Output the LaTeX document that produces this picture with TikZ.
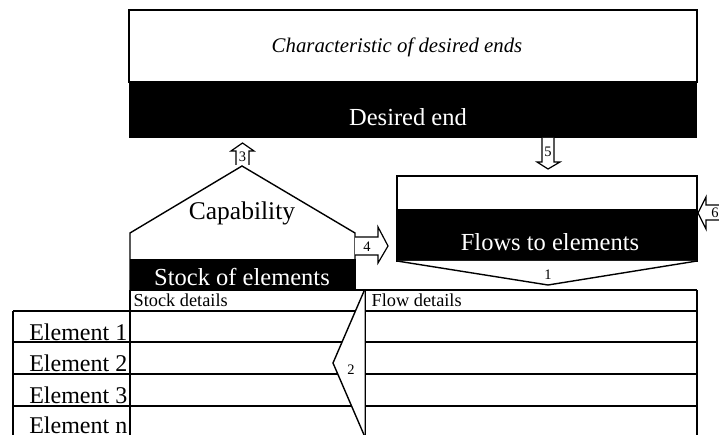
\documentclass[tikz,border=0pt]{standalone}
\usepackage{fontspec}
\setmainfont{Liberation Serif}
\begin{document}
\begin{tikzpicture}[x=1pt,y=-1pt,line width=1.4pt,line join=miter,
  panel/.style={draw=black,fill=white},
  band/.style={fill=black},
  bigw/.style={text=white,inner sep=0pt,font=\fontsize{24.5}{24.5}\selectfont},
  num/.style={inner sep=0pt,font=\fontsize{14.5}{14.5}\selectfont},
  elem/.style={inner sep=0pt,anchor=base east,font=\fontsize{24}{24}\selectfont},
  head/.style={inner sep=0pt,anchor=base west,font=\fontsize{18.3}{18.3}\selectfont},
  blockarrow/.style={draw=black,fill=white,line width=1.2pt}]
\useasboundingbox (0,0) rectangle (719,435);
\clip (0,0) rectangle (719,435);

% desired end panel
\draw[panel] (129,10) rectangle (697,82);
\fill[band] (129,82) rectangle (697,138);
\node[inner sep=0pt,font=\fontsize{20.8}{20.8}\itshape] (charact) at (397,47) {Characteristic of desired ends};
\node[bigw] (desired) at (408,117) {Desired end};

% capability pentagon with stock band
\draw[panel] (130,290) -- (130,233) -- (242,166) -- (355,233) -- (355,290);
\fill[band] (130,259) rectangle (356,290);
\node[inner sep=0pt,font=\fontsize{25.5}{25.5}\selectfont] (capab) at (242,213) {Capability};
\node[bigw] (stock) at (242,277) {Stock of elements};

% flows panel
\draw[panel] (397,176) rectangle (697,261);
\fill[band] (397,209) rectangle (697,261);
\node[bigw] (flows) at (550,242) {Flows to elements};
\draw[panel] (397,261) -- (548,285) -- (697,261);
\node[num] (n1) at (548,275) {1};

% block arrows
\draw[blockarrow] (236,165) -- (236,151) -- (231,151) -- (242.5,143) -- (254,151) -- (249,151) -- (249,165);
\node[num] (n3) at (242.5,157) {3};
\draw[blockarrow] (542,138) -- (542,162) -- (537,162) -- (548,169) -- (560,162) -- (554,162) -- (554,138);
\node[num] (n5) at (548,152) {5};
\draw[blockarrow] (355,237) -- (378,237) -- (378,227) -- (388,246) -- (378,263) -- (378,255) -- (355,255);
\node[num] (n4) at (367,247) {4};
\draw[blockarrow] (730,205) -- (706,205) -- (706,197) -- (698,213) -- (706,229) -- (706,220) -- (730,220);
\node[num] (n6) at (715,213) {6};

% element table
\draw (130,290) -- (697,290);
\foreach \yy in {311,342,374,406}
  \draw (13,\yy) -- (697,\yy);
\draw (13,311) -- (13,440);
\draw (130,290) -- (130,440);
\draw (365,290) -- (365,440);
\draw (697,290) -- (697,440);
\node[head] (sd) at (133,306) {Stock details};
\node[head] (fd) at (371,306) {Flow details};
\node[elem] (e1) at (128,340) {Element 1};
\node[elem] (e2) at (128,371) {Element 2};
\node[elem] (e3) at (128,403) {Element 3};
\node[elem] (en) at (128,433) {Element n};

% chevron between stock and flow columns
\fill[white] (364.5,290) -- (333,363) -- (364.5,436) -- cycle;
\draw (364.5,290) -- (333,363) -- (364.5,436);
\node[num] (n2) at (351,370) {2};
\end{tikzpicture}
\end{document}
